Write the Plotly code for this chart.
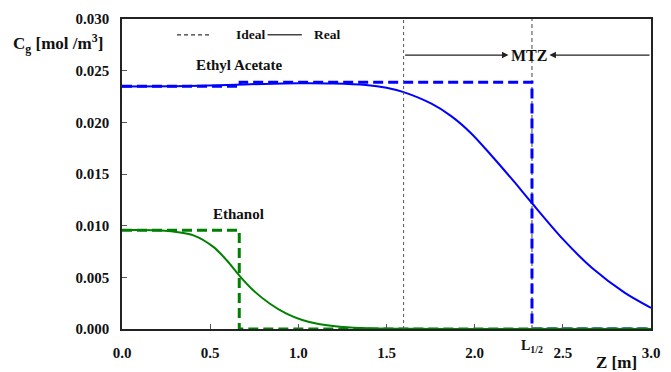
import plotly.graph_objects as go

# ---------------- data ----------------
z_real_ea = [0.0, 0.3, 0.6, 0.8, 1.0, 1.2, 1.383, 1.5, 1.597, 1.755, 1.867, 1.978, 2.09, 2.22, 2.322, 2.499, 2.666, 2.852, 3.0]
c_real_ea = [0.02346, 0.0235, 0.02362, 0.02372, 0.02378, 0.02376, 0.02362, 0.02335, 0.02292, 0.0218, 0.0206, 0.01897, 0.01689, 0.01433, 0.01224, 0.00872, 0.0059, 0.0035, 0.00205]

z_ideal_ea = [0.0, 0.67, 0.67, 2.325, 2.325, 3.0]
c_ideal_ea = [0.0235, 0.0235, 0.02387, 0.02387, 0.0, 0.0]

z_real_et = [0.0, 0.2, 0.279, 0.409, 0.52, 0.595, 0.669, 0.744, 0.837, 0.93, 1.022, 1.115, 1.25, 1.4, 1.6, 2.0, 3.0]
c_real_et = [0.00958, 0.00956, 0.00945, 0.00904, 0.00792, 0.00663, 0.0051, 0.00375, 0.00247, 0.00151, 0.00087, 0.00048, 0.0002, 0.00007, 0.00002, 0.0, 0.0]

z_ideal_et = [0.0, 0.665, 0.665, 3.0]
c_ideal_et = [0.00955, 0.00955, 0.0, 0.0]

z_break = 1.597    # start of mass transfer zone
l_half = 2.325     # L 1/2
mtz_level = 0.02651

x_ticks = [0.0, 0.5, 1.0, 1.5, 2.0, 2.5, 3.0]
x_ticklabels = ["0.0", "0.5", "1.0", "1.5", "2.0", "2.5", "3.0"]
y_ticks = [0.0, 0.005, 0.01, 0.015, 0.02, 0.025, 0.03]
y_ticklabels = ["0.000", "0.005", "0.010", "0.015", "0.020", "0.025", "0.030"]

BLUE = "#0000FF"
GREEN = "#008000"
FONT = "Liberation Serif"
TXT = "#111111"

def bold(size):
    return dict(family=FONT, size=size, color=TXT, weight="bold")

fig = go.Figure()

fig.add_trace(go.Scatter(x=z_ideal_ea, y=c_ideal_ea, mode="lines",
                         line=dict(color=BLUE, width=3, dash="10px,5px"), showlegend=False))
fig.add_trace(go.Scatter(x=z_ideal_et, y=c_ideal_et, mode="lines",
                         line=dict(color=GREEN, width=3, dash="10px,5px"), showlegend=False))
fig.add_trace(go.Scatter(x=z_real_ea, y=c_real_ea, mode="lines", line_shape="spline",
                         line=dict(color=BLUE, width=2, smoothing=0.8), showlegend=False))
fig.add_trace(go.Scatter(x=z_real_et, y=c_real_et, mode="lines", line_shape="spline",
                         line=dict(color=GREEN, width=2, smoothing=0.8), showlegend=False))

# reference lines
fig.add_shape(type="line", x0=z_break, x1=z_break, y0=0, y1=0.03, xref="x", yref="y",
              line=dict(color="#555555", width=1, dash="dot"))
fig.add_shape(type="line", x0=l_half, x1=l_half, y0=0, y1=0.03, xref="x", yref="y",
              line=dict(color="#444444", width=1, dash="4px,3px"), layer="below")

# manual legend (Ideal / Real)
leg_y = 0.949
fig.add_shape(type="line", x0=0.104, x1=0.169, y0=leg_y, y1=leg_y, xref="paper", yref="paper",
              line=dict(color="#333333", width=1.3, dash="4px,3px"))
fig.add_annotation(x=0.212, y=leg_y, xref="paper", yref="paper", xanchor="left", yanchor="middle",
                   text="Ideal", showarrow=False, font=bold(13.5))
fig.add_shape(type="line", x0=0.275, x1=0.340, y0=leg_y, y1=leg_y, xref="paper", yref="paper",
              line=dict(color="#444444", width=1.5))
fig.add_annotation(x=0.360, y=leg_y, xref="paper", yref="paper", xanchor="left", yanchor="middle",
                   text="Real", showarrow=False, font=bold(13.5))

# MTZ arrows
fig.add_annotation(x=2.192, y=mtz_level, ax=z_break, ay=mtz_level, xref="x", yref="y",
                   axref="x", ayref="y", text="", showarrow=True, arrowhead=2,
                   arrowsize=1, arrowwidth=1.3, arrowcolor="#222222")
fig.add_annotation(x=2.424, y=mtz_level, ax=3.0, ay=mtz_level, xref="x", yref="y",
                   axref="x", ayref="y", text="", showarrow=True, arrowhead=2,
                   arrowsize=1, arrowwidth=1.3, arrowcolor="#222222")
fig.add_annotation(x=2.31, y=mtz_level, text="MTZ", showarrow=False, xref="x", yref="y",
                   font=bold(16))

fig.add_annotation(x=0.41, y=0.02558, text="Ethyl Acetate", showarrow=False, xref="x", yref="y",
                   xanchor="left", font=bold(15))
fig.add_annotation(x=0.503, y=0.01115, text="Ethanol", showarrow=False, xref="x", yref="y",
                   xanchor="left", font=bold(15))

# axis titles as annotations
fig.add_annotation(x=-0.21, y=0.92, xref="paper", yref="paper", yanchor="middle", xanchor="left",
                   text="C<sub>g</sub> [mol /m<sup>3</sup>]", showarrow=False, font=bold(17))
fig.add_annotation(x=l_half, y=-0.058, xref="x", yref="paper", yanchor="middle",
                   text="L<sub>1/2</sub>", showarrow=False, font=bold(14))
fig.add_annotation(x=0.893, y=-0.109, xref="paper", yref="paper", yanchor="middle", xanchor="left",
                   text="Z [m]", showarrow=False, font=bold(17))

fig.update_layout(
    width=671, height=372,
    margin=dict(l=122, r=11, t=17, b=43),
    paper_bgcolor="white", plot_bgcolor="white",
    showlegend=False,
    xaxis=dict(range=[0, 3], tickvals=x_ticks, ticktext=x_ticklabels, showgrid=False,
               zeroline=False, showline=True, linecolor="#222222", linewidth=1.5, mirror=True,
               ticks="inside", ticklen=5, tickcolor="#555555",
               tickfont=bold(15), ticklabelstandoff=9),
    yaxis=dict(range=[0, 0.03], tickvals=y_ticks, ticktext=y_ticklabels, showgrid=False,
               zeroline=False, showline=True, linecolor="#222222", linewidth=1.5, mirror=True,
               ticks="inside", ticklen=5, tickcolor="#555555",
               tickfont=bold(15), ticklabelstandoff=8),
)

fig.write_html("out.html", config={"displayModeBar": False},
               post_script="document.body.style.margin='0';document.body.style.overflow='hidden';")
